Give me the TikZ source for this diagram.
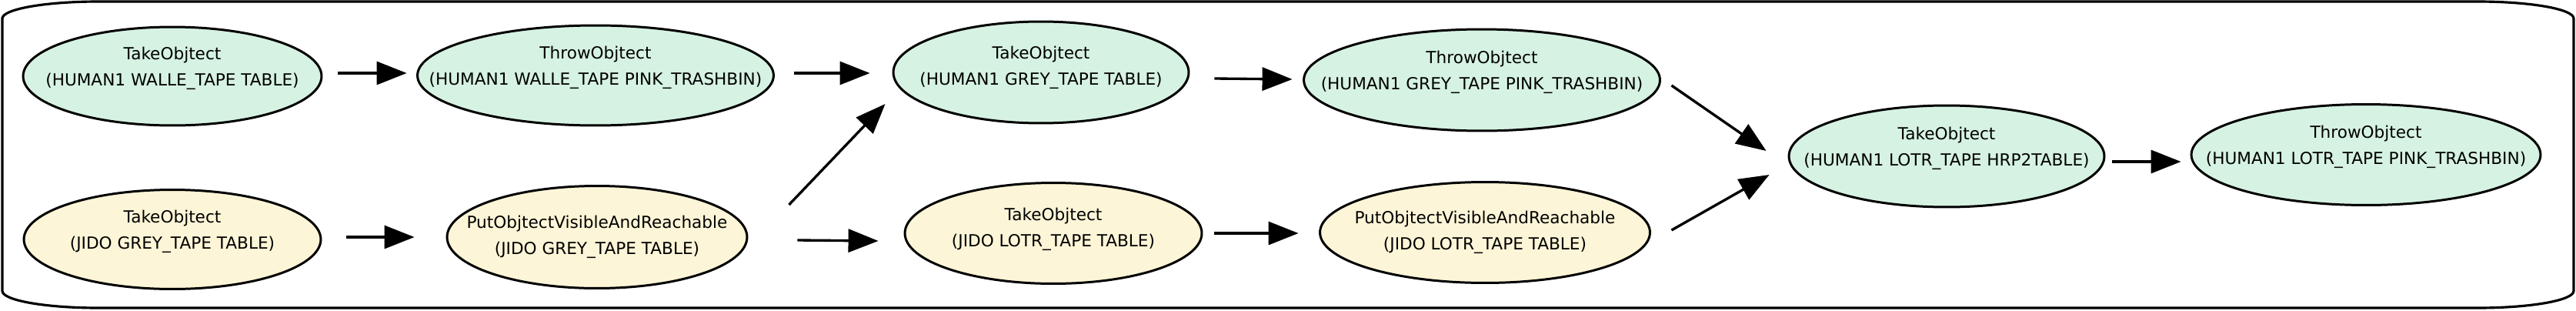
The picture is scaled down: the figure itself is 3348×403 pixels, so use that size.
\documentclass[tikz,border=0pt]{standalone}
\usepackage{fontspec}
\setmainfont{DejaVu Sans}
\usepackage{tikz}
\usetikzlibrary{shapes.geometric,arrows.meta}

\definecolor{humangreen}{RGB}{214,242,226}
\definecolor{robotyellow}{RGB}{253,245,215}

\tikzset{
    act/.style={shape=ellipse,draw=black,line width=1.7pt,inner sep=0pt},
    human/.style={act,fill=humangreen},
    robot/.style={act,fill=robotyellow},
    txt/.style={font=\fontsize{12.3}{19.3}\selectfont,align=center,text=black},
    go/.style={-{Triangle[length=0.78cm,width=0.6cm]},line width=1.9pt},
}

\begin{document}
\begin{tikzpicture}[x=0.02cm,y=-0.02cm]
    \useasboundingbox (0,0) rectangle (3348,403);
    \draw[line width=1.8pt] (3,24) -- (3,378)
        arc[start angle=180,end angle=270,x radius=2.5cm,y radius=0.44cm] -- (3220,400)
        arc[start angle=270,end angle=360,x radius=2.5cm,y radius=0.44cm] -- (3345,24)
        arc[start angle=0,end angle=90,x radius=2.5cm,y radius=0.44cm] -- (128,2)
        arc[start angle=90,end angle=180,x radius=2.5cm,y radius=0.44cm] -- cycle;

    \node[human,minimum width=7.76cm,minimum height=2.56cm,label={[txt,yshift=0.2cm]center:{TakeObjtect\\(HUMAN1 WALLE\_TAPE TABLE)}}] (takeA) at (224,99) {};
    \node[human,minimum width=9.26cm,minimum height=2.6cm,label={[txt,yshift=0.2cm]center:{ThrowObjtect\\(HUMAN1 WALLE\_TAPE PINK\_TRASHBIN)}}] (throwA) at (774,98) {};
    \node[human,minimum width=7.68cm,minimum height=2.64cm,label={[txt,yshift=0.12cm]center:{TakeObjtect\\(HUMAN1 GREY\_TAPE TABLE)}}] (takeB) at (1353,94) {};
    \node[human,minimum width=9.26cm,minimum height=2.64cm,label={[txt,yshift=0.2cm]center:{ThrowObjtect\\(HUMAN1 GREY\_TAPE PINK\_TRASHBIN)}}] (throwB) at (1926,104) {};
    \node[human,minimum width=8.2cm,minimum height=2.64cm,label={[txt,yshift=0.2cm]center:{TakeObjtect\\(HUMAN1 LOTR\_TAPE HRP2TABLE)}}] (takeC) at (2530,203) {};
    \node[human,minimum width=9.08cm,minimum height=2.62cm,label={[txt,yshift=0.2cm]center:{ThrowObjtect\\(HUMAN1 LOTR\_TAPE PINK\_TRASHBIN)}}] (throwC) at (3075,201) {};

    \node[robot,minimum width=7.72cm,minimum height=2.58cm,label={[txt,yshift=0.2cm]center:{TakeObjtect\\(JIDO GREY\_TAPE TABLE)}}] (takeD) at (224,311) {};
    \node[robot,minimum width=7.8cm,minimum height=2.66cm,label={[txt]center:{PutObjtectVisibleAndReachable\\(JIDO GREY\_TAPE TABLE)}}] (putA) at (776,308) {};
    \node[robot,minimum width=7.72cm,minimum height=2.62cm,label={[txt,yshift=0.1cm]center:{TakeObjtect\\(JIDO LOTR\_TAPE TABLE)}}] (takeE) at (1369,303) {};
    \node[robot,minimum width=8.58cm,minimum height=2.62cm,label={[txt]center:{PutObjtectVisibleAndReachable\\(JIDO LOTR\_TAPE TABLE)}}] (putB) at (1930,302) {};

    \path[go] ([shift={(20,-4)}]takeA.east) edge ([shift={(-12.5,-3)}]throwA.west);
    \path[go] ([shift={(25.5,-3)}]throwA.east) edge ([shift={(-29,1)}]takeB.west);
    \path[go] ([shift={(32,-3)}]takeD.east) edge ([shift={(-41,0)}]putA.west);
    \path[go] ([shift={(53,-42)}]putA.east) edge ([shift={(-9,41)}]takeB.west);
    \path[go] ([shift={(64,4)}]putA.east) edge ([shift={(-33,10)}]takeE.west);
    \path[go] ([shift={(32,8)}]takeB.east) edge ([shift={(-13.5,-1)}]throwB.west);
    \path[go] ([shift={(15,0)}]takeE.east) edge ([shift={(-26.5,1)}]putB.west);
    \path[go] ([shift={(13.5,7)}]throwB.east) edge ([shift={(-28,-7)}]takeC.west);
    \path[go] ([shift={(26.5,-3)}]putB.east) edge ([shift={(-24,24)}]takeC.west);
    \path[go] ([shift={(9,7)}]takeC.east) edge ([shift={(-12,9)}]throwC.west);
\end{tikzpicture}
\end{document}
